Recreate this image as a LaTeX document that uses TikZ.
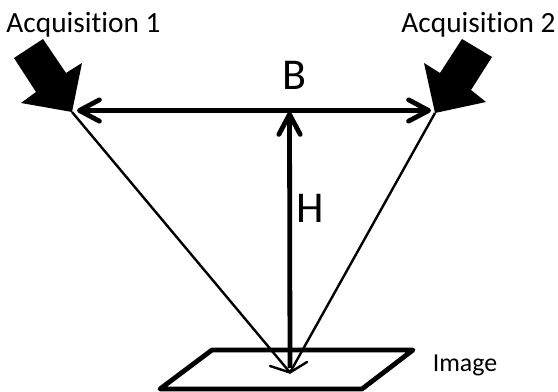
\documentclass[tikz,border=0pt]{standalone}
\usepackage{fontspec}
\setmainfont[Ligatures=NoCommon]{Carlito}
\usetikzlibrary{arrows.meta}
\begin{document}
\begin{tikzpicture}[x=0.75pt,y=-0.75pt,
  lbl/.style={font=\fontsize{22pt}{24pt}\selectfont,inner sep=0pt,text=black},
  small lbl/.style={font=\fontsize{19.4pt}{22pt}\selectfont,inner sep=0pt,text=black},
  big/.style={font=\fontsize{33pt}{36pt}\selectfont,inner sep=0pt,text=black},
  ray/.style={draw=black,line width=1.8pt},
  thick arrow/.style={draw=black,line width=3.6pt,{Straight Barb[length=15pt,width=16pt,line width=3.6pt,round]}-{Straight Barb[length=15pt,width=16pt,line width=3.6pt,round]}},
  dir/.style={fill=black,draw=none}]
\useasboundingbox (0,0) rectangle (558,392);
\coordinate (s1) at (72,112);
\coordinate (s2) at (435,113);
\coordinate (base1) at (77,110.5);
\coordinate (base2) at (431,110.5);
\coordinate (top) at (289.5,112);
\coordinate (foot) at (290,372.5);
\coordinate (barbL) at (270,366);
\coordinate (barbR) at (307,362);
\fill[dir] (s1) -- (82,63) -- (66,73) -- (43,39) -- (14,58) -- (36,92) -- (21,103) -- cycle;
\fill[dir] (s2) -- (424,63) -- (440,73) -- (462,39) -- (492,57) -- (471,90) -- (486,102) -- cycle;
\draw[ray] (s1) -- (foot);
\draw[ray] (s2) -- (foot);
\draw[thick arrow] (base1) -- (base2);
\draw[draw=black,line width=3.6pt,{Straight Barb[length=15pt,width=16pt,line width=3.6pt,round]}-] (top) -- (290,368);
\draw[draw=black,line width=1.8pt,line cap=round,line join=miter] (barbL) -- (foot) -- (barbR);
\draw[draw=black,line width=3.6pt,line join=round] (212,350) -- (413,350) -- (362,389) -- (160,389) -- cycle;
\node[lbl,anchor=center] (a1) at (83.5,25) {Acquisition 1};
\node[lbl,anchor=center] (a2) at (478.5,25) {Acquisition 2};
\node[big] (b) at (294,75) {B};
\node[big] (h) at (310,208) {H};
\node[small lbl,anchor=center] (im) at (465,365) {Image};
\end{tikzpicture}
\end{document}
